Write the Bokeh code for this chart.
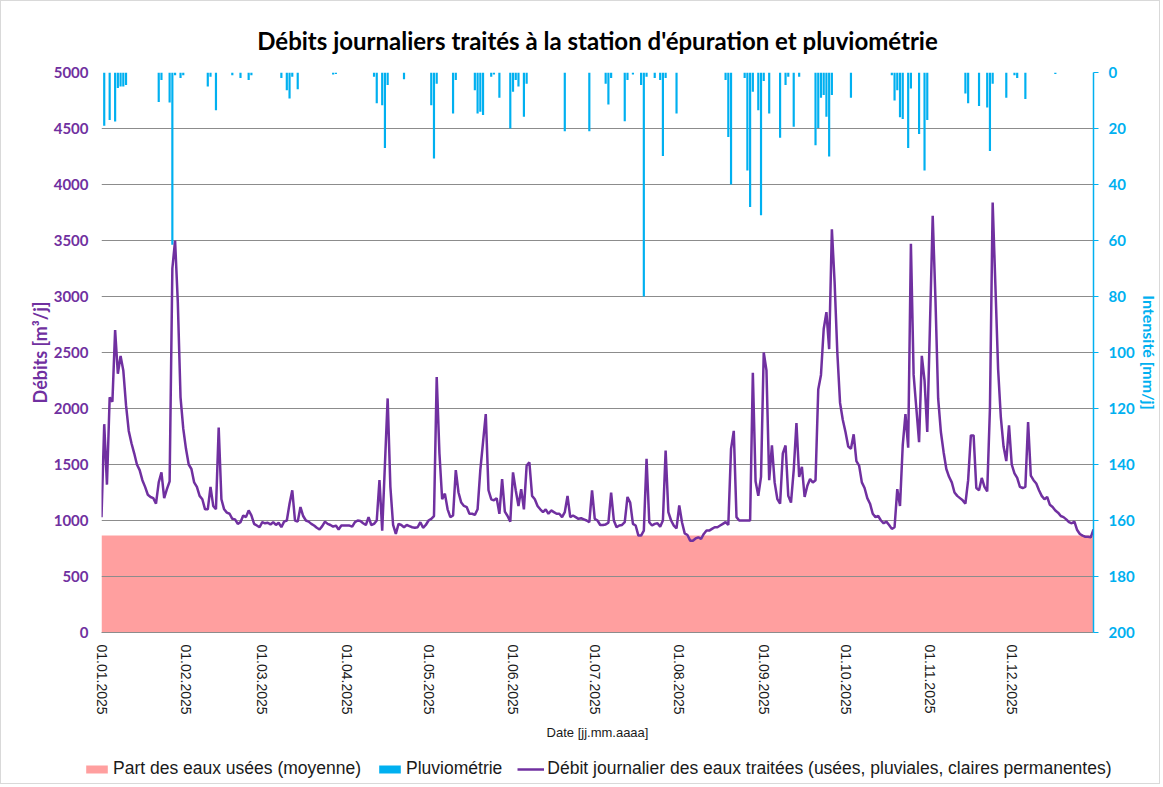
import math
from datetime import datetime, timedelta
import pandas as pd
from bokeh.plotting import figure
from bokeh.layouts import column
from bokeh.models import (Range1d, LinearAxis, FixedTicker, DatetimeTickFormatter,
                          Legend, LegendItem, ColumnDataSource)
from bokeh.embed import file_html
from bokeh.resources import INLINE

# ---------------- data ----------------
start = datetime(2025, 1, 1)
dates = pd.date_range("2025-01-01", "2025-12-31", freq="D")

# daily treated flow [m3/d], 01.01.2025 .. 31.12.2025
flow = [
    1030, 1860, 1320, 2100, 2060, 2700, 2310, 2470, 2340, 2030,
    1800, 1690, 1600, 1500, 1450, 1360, 1300, 1230, 1210, 1200,
    1150, 1340, 1430, 1200, 1280, 1350, 3250, 3500, 2950, 2100,
    1820, 1640, 1500, 1460, 1340, 1300, 1220, 1190, 1100, 1100,
    1300, 1130, 1100, 1830, 1190, 1100, 1070, 1060, 1015, 1010,
    970, 985, 1045, 1030, 1090, 1045, 970, 955, 940, 985,
    975, 980, 965, 985, 960, 980, 940, 990, 1000, 1150,
    1270, 1000, 990, 1120, 1040, 1000, 990, 970, 955, 935,
    920, 950, 990, 970, 960, 945, 955, 920, 955, 955,
    955, 955, 945, 985, 1000, 995, 975, 960, 1030, 960,
    970, 1000, 1360, 910, 1500, 2090, 1300, 960, 880, 970,
    960, 940, 960, 950, 940, 935, 940, 985, 935, 960,
    1000, 1015, 1040, 2280, 1600, 1190, 1240, 1100, 1030, 1045,
    1450, 1250, 1160, 1130, 1120, 1060, 1060, 1050, 1100, 1450,
    1700, 1950, 1270, 1190, 1180, 1200, 1060, 1370, 1080, 1040,
    990, 1430, 1270, 1130, 1280, 1100, 1490, 1520, 1220, 1190,
    1130, 1100, 1075, 1100, 1060, 1090, 1075, 1060, 1060, 1030,
    1075, 1220, 1030, 1045, 1030, 1015, 1020, 1010, 1000, 985,
    1270, 1015, 1000, 960, 960, 965, 980, 1250, 1000, 940,
    955, 960, 985, 1210, 1160, 970, 955, 865, 865, 910,
    1550, 985, 955, 970, 975, 945, 1000, 1625, 1075, 1000,
    955, 930, 1135, 985, 885, 870, 820, 820, 840, 850,
    835, 880, 910, 910, 925, 940, 940, 955, 970, 985,
    960, 1640, 1800, 1030, 1000, 1000, 1000, 1000, 1000, 2320,
    1350, 1220, 1390, 2500, 2340, 1360, 1670, 1340, 1190, 1150,
    1600, 1670, 1220, 1160, 1450, 1870, 1390, 1480, 1210, 1310,
    1370, 1340, 1360, 2170, 2300, 2710, 2860, 2530, 3600, 3130,
    2500, 2050, 1900, 1790, 1660, 1640, 1770, 1530, 1490, 1340,
    1290, 1200, 1150, 1060, 1030, 1040, 1000, 975, 990, 960,
    925, 940, 1280, 1130, 1670, 1950, 1650, 3470, 2300, 2000,
    1700, 2470, 2250, 1790, 2750, 3720, 2980, 2090, 1790, 1610,
    1460, 1390, 1340, 1250, 1220, 1200, 1180, 1150, 1360, 1760,
    1760, 1290, 1270, 1380, 1300, 1260, 2000, 3840, 3100, 2350,
    1920, 1660, 1530, 1850, 1500, 1420, 1380, 1300, 1290, 1300,
    1880, 1400, 1360, 1330, 1270, 1220, 1190, 1210, 1140, 1120,
    1090, 1070, 1040, 1030, 1010, 985, 975, 990, 915, 880,
    865, 855, 855, 850, 920,
]

# rainfall [mm/d]: day of year (0 = 01.01.2025) and amount
rain_days = [
    1, 3, 5, 6, 7, 8, 9, 21, 22, 25, 26, 27, 29, 30, 39, 40, 42, 48, 51, 54, 55,
    66, 68, 69, 70, 72, 85, 86, 100, 101, 103, 104, 105, 111,
    121, 122, 123, 129, 130, 137, 138, 139, 140, 143, 144, 146, 150, 151, 152, 153, 155, 156,
    170, 179, 185, 186, 187, 192, 193, 195, 198, 199, 200, 203, 205, 206, 207, 211,
    229, 230, 231, 236, 237, 238, 239, 241, 242, 243, 245, 249, 251, 252, 254, 256,
    262, 263, 264, 265, 266, 267, 268, 275, 290, 291, 292, 293, 294, 296, 297, 300,
    302, 303, 317, 318, 322, 325, 326, 327, 332, 335, 336, 339, 350,
]
rain_mm = [
    19, 17, 17.5, 5.5, 5, 5, 4.5, 10.5, 2.7, 10.7, 61.5, 1, 2, 1, 5, 1.5, 13.5, 1, 2, 2.7, 1,
    2, 6.3, 9.3, 1.5, 6, 0.7, 0.5, 1.5, 11, 11.7, 27, 4.5, 2.4,
    11.7, 30.7, 4, 14.6, 2.7, 6.3, 14.6, 14, 15.2, 1.5, 0.7, 9, 20, 6.9, 2.7, 5, 15.8, 4,
    21, 21, 4, 11.4, 2, 17.4, 2.7, 0.7, 4.5, 80, 1.5, 2, 2.7, 29.8, 2, 14.6,
    2.7, 23, 40, 2, 35, 48, 6.9, 13.5, 51, 3, 14.6, 23.3, 4.5, 1.5, 19.4, 1.5,
    26, 19.8, 9, 8, 15.8, 30, 8, 9, 1, 10, 6.3, 16, 16.6, 27, 5.7, 22,
    35, 17, 7.5, 11, 12, 12.5, 28, 4, 9, 1, 2, 9.5, 0.5,
]

wastewater_mean = 865  # mean wastewater share [m3/d]

flow_ticks = list(range(0, 5001, 500))
rain_ticks = list(range(0, 201, 20))
month_ticks = pd.date_range("2025-01-01", "2025-12-01", freq="MS")

label_area = "Part des eaux usées (moyenne)"
label_rain = "Pluviométrie"
label_flow = "Débit journalier des eaux traitées (usées, pluviales, claires permanentes)"

# ---------------- styling ----------------
PURPLE = "#7030A0"
CYAN = "#00B0F0"
PINK = "#FF9F9F"
GRID = "#8C8C8C"
TXT = "#1a1a1a"
BORDER = "1px solid #d9d9d9"

def ms(ts):
    return pd.Timestamp(ts).value // 10**6

p = figure(width=1160, height=748,
           x_axis_type="datetime",
           x_range=Range1d(ms(dates[0]), ms(dates[-1])),
           y_range=Range1d(0, 5000),
           output_backend="svg", toolbar_location=None,
           min_border_left=100, min_border_right=68,
           min_border_top=71, min_border_bottom=117,
           background_fill_color="white", border_fill_color="white",
           styles={"border-top": BORDER, "border-left": BORDER, "border-right": BORDER})
p.outline_line_color = None

p.title.text = "Débits journaliers traités à la station d'épuration et pluviométrie"
p.title.align = "center"
p.title.text_font = "Lato"
p.title.text_font_size = "24px"
p.title.text_font_style = "bold"
p.title.text_color = "black"
p.title.standoff = 36

p.extra_y_ranges = {"rain": Range1d(start=200, end=0)}

# wastewater share area
area_src = ColumnDataSource(data=dict(x=[dates[0], dates[-1]],
                                      y=[wastewater_mean, wastewater_mean]))
p.varea(x="x", y1=0, y2="y", source=area_src, fill_color=PINK, level="image")

# rainfall bars (hanging from top, right axis inverted)
rain_src = ColumnDataSource(data=dict(
    x=[start + timedelta(days=d) for d in rain_days], mm=rain_mm))
p.vbar(x="x", top="mm", bottom=0, width=0.8 * 86400000,
       source=rain_src, y_range_name="rain", fill_color=CYAN, line_color=None)

# daily flow line
flow_src = ColumnDataSource(data=dict(x=dates, flow=flow))
p.line(x="x", y="flow", source=flow_src, line_color=PURPLE, line_width=2.5)

# grid
p.xgrid.visible = False
p.ygrid.grid_line_color = GRID
p.ygrid.grid_line_width = 1

# left axis
ya = p.yaxis[0]
ya.ticker = FixedTicker(ticks=flow_ticks)
ya.axis_label = "Débits [m³/j]"
ya.axis_label_text_font = "Lato"
ya.axis_label_text_font_style = "bold"
ya.axis_label_text_font_size = "18px"
ya.axis_label_text_color = PURPLE
ya.axis_label_standoff = 0
ya.major_label_text_font = "Lato"
ya.major_label_text_font_style = "bold"
ya.major_label_text_font_size = "15px"
ya.major_label_text_color = PURPLE
ya.major_label_standoff = 13
ya.major_tick_in = 0
ya.major_tick_out = 0
ya.axis_line_color = None
ya.major_tick_line_color = None
ya.minor_tick_line_color = None

# right axis
ra = LinearAxis(y_range_name="rain", ticker=FixedTicker(ticks=rain_ticks))
ra.axis_label = "Intensité [mm/j]"
ra.axis_label_text_font = "Lato"
ra.axis_label_text_font_style = "bold"
ra.axis_label_text_font_size = "16px"
ra.axis_label_text_color = CYAN
ra.axis_label_standoff = 2
ra.major_label_text_font = "Lato"
ra.major_label_text_font_style = "bold"
ra.major_label_text_font_size = "15px"
ra.major_label_text_color = CYAN
ra.major_label_standoff = 10
ra.axis_line_color = CYAN
ra.axis_line_width = 1.5
ra.major_tick_line_color = CYAN
ra.major_tick_in = 0
ra.major_tick_out = 5
ra.minor_tick_line_color = None
p.add_layout(ra, "right")

# x axis
xa = p.xaxis[0]
xa.ticker = FixedTicker(ticks=[ms(t) for t in month_ticks])
fmt = "%d.%m.%Y"
xa.formatter = DatetimeTickFormatter(milliseconds=fmt, seconds=fmt, minsec=fmt,
                                     minutes=fmt, hourmin=fmt, hours=fmt,
                                     days=fmt, months=fmt, years=fmt)
xa.major_label_orientation = -math.pi / 2
xa.major_label_text_font = "Liberation Sans"
xa.major_label_text_font_size = "14px"
xa.major_label_text_color = TXT
xa.major_label_standoff = 12
xa.major_tick_in = 0
xa.major_tick_out = 0
xa.axis_label = "Date [jj.mm.aaaa]"
xa.axis_label_text_font = "Liberation Sans"
xa.axis_label_text_font_size = "13px"
xa.axis_label_text_font_style = "normal"
xa.axis_label_text_color = TXT
xa.axis_label_standoff = 7
xa.axis_line_color = GRID
xa.major_tick_line_color = None
xa.minor_tick_line_color = None

# ---------------- legend strip ----------------
lg = figure(width=1160, height=36, toolbar_location=None, output_backend="svg",
            x_range=Range1d(0, 1), y_range=Range1d(0, 1),
            x_axis_location=None, y_axis_location=None,
            min_border=0, background_fill_color="white", border_fill_color="white",
            styles={"border-bottom": BORDER, "border-left": BORDER, "border-right": BORDER})
lg.frame_align = False
lg.outline_line_color = None
lg.grid.visible = False
# legend keys only: placeholder source lies outside the strip's visible range
key_src = ColumnDataSource(data=dict(x=[-3, -2], y=[-3, -2]))
l_area = lg.varea(x="x", y1="y", y2="y", source=key_src, fill_color=PINK)
l_rain = lg.vbar(x="x", top="y", bottom="y", width=0.5, source=key_src,
                 fill_color=CYAN, line_color=None)
l_flow = lg.line(x="x", y="y", source=key_src, line_color=PURPLE, line_width=2.5)

legend = Legend(items=[
    LegendItem(label=label_area, renderers=[l_area]),
    LegendItem(label=label_rain, renderers=[l_rain]),
    LegendItem(label=label_flow, renderers=[l_flow]),
], orientation="horizontal", location=(82, 5))
legend.label_text_font = "Liberation Sans"
legend.label_text_font_size = "17.5px"
legend.label_text_color = TXT
legend.glyph_width = 27
legend.glyph_height = 10
legend.label_standoff = 3
legend.spacing = 15
legend.padding = 0
legend.margin = 0
legend.border_line_color = None
legend.background_fill_alpha = 0
lg.add_layout(legend, "center")

layout = column(p, lg, spacing=0)
open("out.html", "w").write(file_html(layout, INLINE))
